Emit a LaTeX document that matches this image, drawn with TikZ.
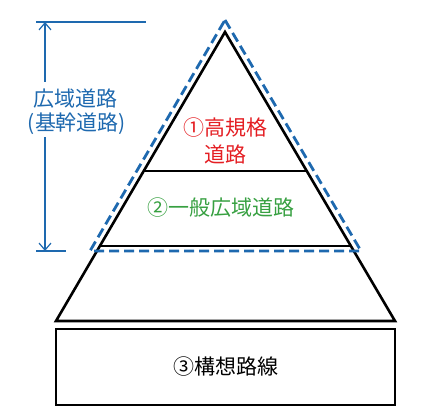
\documentclass[tikz,border=0pt]{standalone}
\usepackage{fontspec}
\newfontfamily\jp{Noto Sans CJK JP}
\usetikzlibrary{arrows.meta}
\definecolor{myblue}{RGB}{30,105,175}
\definecolor{myred}{RGB}{228,30,35}
\definecolor{mygreen}{RGB}{55,160,65}
\begin{document}
\begin{tikzpicture}[x=1pt,y=-1pt,
  blk/.style={line width=2.6pt,black,line join=miter},
  bdash/.style={line width=2.8pt,myblue,dash pattern=on 10pt off 5pt},
  dim/.style={line width=1.2pt,myblue},
  lbl/.style={font=\jp\fontsize{21}{24}\selectfont,inner sep=0pt}]
\useasboundingbox (0,0) rectangle (445,419);
% pyramid
\coordinate (A) at (225,32);
\coordinate (BL) at (56,321);
\coordinate (BR) at (395,321);
\coordinate (L1l) at (144,171);
\coordinate (L1r) at (306,171);
\coordinate (L2l) at (100,246);
\coordinate (L2r) at (350,246);
\draw[blk] (A) -- (BR) -- (BL) -- cycle;
\draw[blk] (L1l) -- (L1r);
\draw[blk] (L2l) -- (L2r);
% box
\node[draw,line width=2.6pt,minimum width=339pt,minimum height=76pt,inner sep=0pt] (box) at (225.5,367) {};
% dashed triangle
\coordinate (DA) at (225,20);
\coordinate (DL) at (90,251);
\coordinate (DR) at (361,251);
\draw[bdash] (DA) -- (DR) -- (DL) -- cycle;
% dimension
\coordinate (T1) at (36,22);
\coordinate (T2) at (146,22);
\coordinate (B1) at (36,251);
\coordinate (B2) at (66,251);
\coordinate (VT) at (45,22);
\coordinate (VB) at (45,251);
\draw[dim] (T1) -- (T2);
\draw[dim] (B1) -- (B2);
\node[lbl,text=myblue] (w1) at (76,99) {広域道路};
\node[lbl,text=myblue] (w2) at (77,124) {(基幹道路)};
\draw[dim,-{Straight Barb[length=7pt,width=12pt]}] (45,82) -- (VT);
\draw[dim,-{Straight Barb[length=7pt,width=12pt]}] (45,137) -- (VB);
% labels
\node[lbl,text=myred] (t1) at (225,128) {①高規格};
\node[lbl,text=myred] (t1b) at (225,154) {道路};
\node[lbl,text=mygreen] (t2) at (221,208) {②一般広域道路};
\node[lbl] (t3) at (226,367) {③構想路線};
\end{tikzpicture}
\end{document}
